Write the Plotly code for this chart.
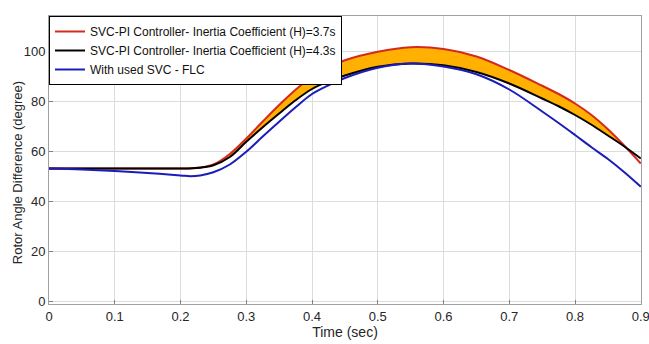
import numpy as np
import plotly.graph_objects as go

# Time (sec)
t = [0, 0.05, 0.1, 0.15, 0.2, 0.215, 0.23, 0.25, 0.275, 0.3, 0.325, 0.35, 0.375, 0.4,
     0.425, 0.45, 0.5, 0.55, 0.6, 0.65, 0.7, 0.75, 0.775, 0.8, 0.825, 0.85, 0.875, 0.9]

# SVC-PI Controller, H=3.7s
red = [53, 53, 53, 53, 53, 53.1, 53.4, 54.6, 58.8, 65, 71.8, 78.4, 84.5, 89.8,
       93.5, 96.3, 99.7, 101.5, 100.8, 97.8, 92.4, 86.1, 82.8, 79.0, 74.4, 68.7, 62.1, 55]
# SVC-PI Controller, H=4.3s
black = [53, 53, 53, 53, 53, 53.05, 53.3, 54.3, 57.6, 63.7, 69.5, 75, 80.3, 84.8,
         87.8, 90.2, 93.7, 95, 94.3, 91.6, 87, 81, 77.9, 74.4, 70.5, 66.2, 61.8, 57]
# With used SVC - FLC
blue = [53, 52.6, 52, 51.2, 50.2, 49.9, 50.2, 51.5, 54.6, 59.7, 65.8, 71.7, 77.5, 82.8,
        86.3, 89.2, 93.3, 95, 93.8, 90.7, 84.6, 75.8, 71.2, 66.4, 61.5, 56.8, 51.5, 45.7]

names = ["SVC-PI Controller- Inertia Coefficient (H)=3.7s",
         "SVC-PI Controller- Inertia Coefficient (H)=4.3s",
         "With used SVC - FLC"]

x_ticks = [0, 0.1, 0.2, 0.3, 0.4, 0.5, 0.6, 0.7, 0.8, 0.9]
x_labels = ["0", "0.1", "0.2", "0.3", "0.4", "0.5", "0.6", "0.7", "0.8", "0.9"]
y_ticks = [0, 20, 40, 60, 80, 100]

tt = np.array(t)
r = np.array(red)
b = np.array(black)
mask = r >= b

fig = go.Figure()
# shaded band between the two PI curves
fig.add_trace(go.Scatter(x=tt[mask], y=b[mask], mode="lines", line=dict(width=0, shape="spline"),
                         showlegend=False, hoverinfo="skip"))
fig.add_trace(go.Scatter(x=tt[mask], y=r[mask], mode="lines", line=dict(width=0, shape="spline"),
                         fill="tonexty", fillcolor="#FFB000", showlegend=False, hoverinfo="skip"))

fig.add_trace(go.Scatter(x=t, y=red, mode="lines", name=names[0],
                         line=dict(color="#D42A1E", width=2, shape="spline")))
fig.add_trace(go.Scatter(x=t, y=black, mode="lines", name=names[1],
                         line=dict(color="#000000", width=2, shape="spline")))
fig.add_trace(go.Scatter(x=t, y=blue, mode="lines", name=names[2],
                         line=dict(color="#1C1CB8", width=2, shape="spline")))

axis_common = dict(
    showgrid=True, gridcolor="#DCDCDC", gridwidth=1,
    showline=True, linecolor="#A0A0A0", linewidth=1, mirror=True,
    ticks="inside", ticklen=4, tickcolor="#808080",
    zeroline=False, automargin=False, ticklabeloverflow="allow",
    tickfont=dict(family="Liberation Sans, Arial", size=13, color="#262626"),
)

fig.update_layout(
    width=649, height=344,
    margin=dict(l=49, r=8, t=16, b=40),
    paper_bgcolor="white", plot_bgcolor="white",
    font=dict(family="Liberation Sans, Arial", size=12, color="#262626"),
    xaxis=dict(range=[0, 0.9003], tickvals=x_ticks, ticktext=x_labels,
               title=dict(text="Time (sec)", standoff=2, font=dict(size=14)), **axis_common),
    yaxis=dict(range=[-1.2, 114], tickvals=y_ticks, **axis_common),
    legend=dict(x=0, y=1, xanchor="left", yanchor="top", bgcolor="white",
                bordercolor="#000000", borderwidth=1, traceorder="normal",
                font=dict(family="Liberation Sans, Arial", size=12, color="#111111"),
                tracegroupgap=0, itemwidth=30),
    showlegend=True,
    annotations=[dict(text="Rotor Angle Difference (degree)", textangle=-90,
                      xref="paper", yref="paper", x=-0.052, y=0.455,
                      xanchor="center", yanchor="middle", showarrow=False,
                      font=dict(family="Liberation Sans, Arial", size=13, color="#262626"))],
)

fig.write_html("out.html", config={"displayModeBar": False},
               post_script="document.body.style.margin='0';document.body.style.overflow='hidden';")
